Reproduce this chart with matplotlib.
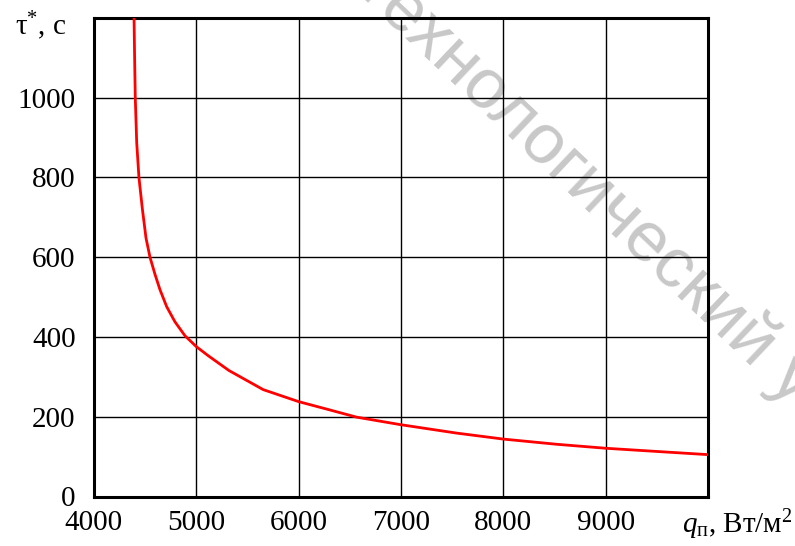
import matplotlib
matplotlib.use("Agg")
import matplotlib.pyplot as plt

# data
q_values = [4393, 4399, 4405, 4419, 4441, 4474, 4510, 4549, 4598, 4646, 4712, 4793,
            4891, 5001, 5118, 5320, 5655, 6000, 6307, 6567, 7000, 7544, 8000, 8520,
            9000, 9497, 10000]
tau_values = [1200, 1097, 1002, 888, 800, 722, 648, 600, 557, 519, 476, 438,
              403, 376, 353, 316, 268, 238, 217, 199, 180, 159, 144, 131,
              121, 113, 105]
x_ticks = [4000, 5000, 6000, 7000, 8000, 9000]
y_ticks = [0, 200, 400, 600, 800, 1000]

plt.rcParams['font.family'] = ['Liberation Serif', 'DejaVu Serif']
plt.rcParams['mathtext.fontset'] = 'custom'
plt.rcParams['mathtext.rm'] = 'Liberation Serif'
plt.rcParams['mathtext.it'] = 'Liberation Serif:italic'

fig = plt.figure(figsize=(7.95, 5.46), dpi=100)
ax = fig.add_axes([93.8 / 795, 1 - 496.5 / 546, (708 - 93.8) / 795, (496.5 - 18) / 546])
ax.patch.set_visible(False)

ax.plot(q_values, tau_values, color='#ff0000', lw=2.0, zorder=3, clip_on=True,
        solid_joinstyle='round')

ax.set_xlim(4000, 10000)
ax.set_ylim(0, 1200)
ax.set_xticks(x_ticks)
ax.set_yticks(y_ticks)
ax.tick_params(length=0, labelsize=21, pad=10)
ax.tick_params(axis='y', pad=13)
ax.grid(True, color='black', lw=1.0, zorder=1)
ax.set_axisbelow(True)
for s in ax.spines.values():
    s.set_linewidth(2.2)
    s.set_color('black')

fig.text(15 / 795, 1 - 35 / 546, r'τ$^{*}$, с', fontsize=21, ha='left', va='baseline')
fig.text(682 / 795, 1 - 533 / 546, r'$q_{\mathrm{п}}$, Вт/м$^{2}$', fontsize=21,
         ha='left', va='baseline')

# watermark (behind the grid)
fig.text(366 / 795, 1 - (-24) / 546, 'технологический у', fontsize=51,
         family=['Liberation Sans', 'DejaVu Sans'], color='#c8c8c8',
         rotation=-43.5, rotation_mode='anchor', ha='left', va='center', zorder=-1)

fig.savefig('out.png', dpi=100)
